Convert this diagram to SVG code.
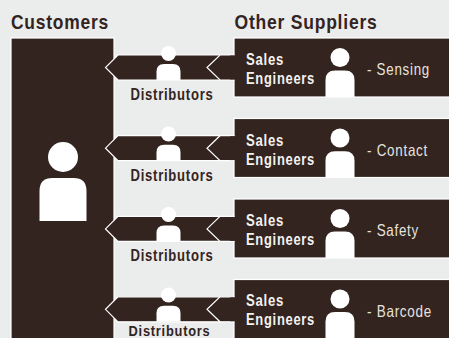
<svg xmlns="http://www.w3.org/2000/svg" width="449" height="338" viewBox="0 0 449 338">
<style>
text{font-family:"Liberation Sans",Arial,sans-serif;font-weight:700;letter-spacing:.9px}
.dark{fill:#33241f;stroke:#fff;stroke-width:1.2}
.fill{fill:#33241f}
.p{fill:#fff}
.h{font-size:20.500px;fill:#33241f}
.d{font-size:16px;fill:#33241f}
.s{font-size:16px;fill:#f4f2ef}
.l{font-size:16.500px;fill:#e6e3df;font-weight:400}
</style>
<defs>
<path id="small" class="p" d="M156.500 80V71.500Q156.500 64 164 64H173Q180.500 64 180.500 71.500V80Z"/>
<path id="big" class="p" d="M325.500 97V80Q325.500 70.500 335 70.500H345Q354.500 70.500 354.500 80V97Z"/>
<g id="band">
<path class="dark" d="M221 55H118L105.500 67.500L118 80H221"/>
<path class="dark" d="M234.600 55H220L207 67.500L220 80H234.600"/>
<rect class="fill" x="230" y="55.600" width="6" height="23.800"/>
</g>
</defs>
<rect width="449" height="338" fill="#ebecec"/>
<text class="h" x="11" y="28.500" textLength="98" lengthAdjust="spacingAndGlyphs">Customers</text>
<text class="h" x="234.500" y="28.500" textLength="143" lengthAdjust="spacingAndGlyphs">Other Suppliers</text>
<g id="customers">
<rect class="dark" x="11" y="38" width="103" height="305"/>
<circle class="p" cx="63" cy="157" r="15"/>
<path class="p" d="M39.500 221V191Q39.500 178 52.500 178H73.500Q86.500 178 86.500 191V221Z"/>
</g>
<g id="supplier-sensing">
<rect class="dark" x="234" y="38" width="220" height="59"/>
<text class="s"><tspan x="246" y="65.300" textLength="38" lengthAdjust="spacingAndGlyphs">Sales</tspan><tspan x="246" y="84.300" textLength="69" lengthAdjust="spacingAndGlyphs">Engineers</tspan></text>
<circle class="p" cx="340" cy="57.500" r="9.500"/><use href="#big"/>
<text class="l" x="367" y="75" textLength="63" lengthAdjust="spacingAndGlyphs">- Sensing</text>
</g>
<g id="supplier-contact">
<rect class="dark" x="234" y="118.500" width="220" height="59"/>
<text class="s"><tspan x="246" y="145.500" textLength="38" lengthAdjust="spacingAndGlyphs">Sales</tspan><tspan x="246" y="164.500" textLength="69" lengthAdjust="spacingAndGlyphs">Engineers</tspan></text>
<circle class="p" cx="340" cy="138" r="9.500"/><use href="#big" y="80.700"/>
<text class="l" x="367" y="155.500" textLength="61" lengthAdjust="spacingAndGlyphs">- Contact</text>
</g>
<g id="supplier-safety">
<rect class="dark" x="234" y="199" width="220" height="59"/>
<text class="s"><tspan x="246" y="226" textLength="38" lengthAdjust="spacingAndGlyphs">Sales</tspan><tspan x="246" y="245" textLength="69" lengthAdjust="spacingAndGlyphs">Engineers</tspan></text>
<circle class="p" cx="340" cy="218.500" r="9.500"/><use href="#big" y="161"/>
<text class="l" x="367" y="235.500" textLength="52" lengthAdjust="spacingAndGlyphs">- Safety</text>
</g>
<g id="supplier-barcode">
<rect class="dark" x="234" y="279.500" width="220" height="65"/>
<text class="s"><tspan x="246" y="306" textLength="38" lengthAdjust="spacingAndGlyphs">Sales</tspan><tspan x="246" y="325" textLength="69" lengthAdjust="spacingAndGlyphs">Engineers</tspan></text>
<circle class="p" cx="340" cy="299" r="9.500"/><use href="#big" y="241.500"/>
<text class="l" x="367" y="316.500" textLength="65" lengthAdjust="spacingAndGlyphs">- Barcode</text>
</g>
<g id="connectors">
<use href="#band"/>
<use href="#band" y="80.700"/>
<use href="#band" y="161.400"/>
<use href="#band" y="241.800"/>
</g>
<g id="distributor-1"><circle class="p" cx="168.500" cy="53.500" r="7.500"/><use href="#small"/><text class="d" x="130.500" y="99.500" textLength="83" lengthAdjust="spacingAndGlyphs">Distributors</text></g>
<g id="distributor-2"><circle class="p" cx="168.500" cy="134" r="7.500"/><use href="#small" y="80.700"/><text class="d" x="130.500" y="180.500" textLength="83" lengthAdjust="spacingAndGlyphs">Distributors</text></g>
<g id="distributor-3"><circle class="p" cx="168.500" cy="214.500" r="7.500"/><use href="#small" y="161.400"/><text class="d" x="130.500" y="261" textLength="83" lengthAdjust="spacingAndGlyphs">Distributors</text></g>
<g id="distributor-4"><circle class="p" cx="168.500" cy="295" r="7.500"/><use href="#small" y="241.800"/><text class="d" style="font-size:15px" x="128.500" y="335.500" textLength="82" lengthAdjust="spacingAndGlyphs">Distributors</text></g>
</svg>
